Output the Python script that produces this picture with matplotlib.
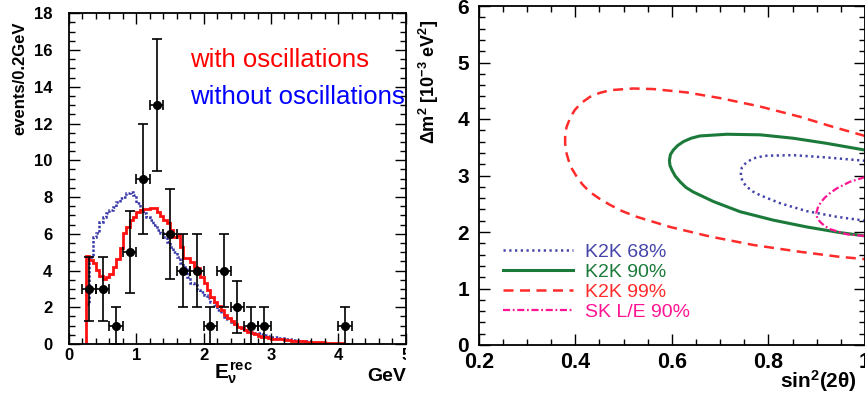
"""K2K energy spectrum and oscillation allowed regions (two panels)."""

import matplotlib
matplotlib.use("Agg")
import matplotlib.pyplot as plt
import numpy as np
from matplotlib.ticker import MultipleLocator
from matplotlib.transforms import Bbox, TransformedBbox

plt.rcParams["font.family"] = ["Liberation Sans", "DejaVu Sans"]
plt.rcParams["mathtext.fontset"] = "custom"
plt.rcParams["mathtext.rm"] = "Liberation Sans:bold"
plt.rcParams["mathtext.it"] = "Liberation Sans:bold"
plt.rcParams["mathtext.bf"] = "Liberation Sans:bold"

# ---- left panel: reconstructed neutrino energy ----
# fine bins (0.05 GeV) up to 3 GeV, then 0.1 GeV in the tail
FINE_EDGES = np.round(np.arange(0.25, 3.0001, 0.05), 3)
RED_TAIL_EDGES = [3.1, 3.2, 3.3, 3.4, 3.5, 3.6, 3.7, 3.8, 3.9, 4.0, 4.08]
BLUE_TAIL_EDGES = [3.1, 3.2, 3.3, 3.4, 3.5, 3.6]

with_osc = [
    4.79, 4.57, 4.39, 4.03, 3.70, 3.52, 3.63, 3.81, 4.21, 4.61,
    5.21, 6.03, 6.39, 6.75, 6.93, 7.20, 7.30, 7.33, 7.35, 7.39,
    7.39, 7.20, 6.97, 6.75, 6.57, 6.21, 5.84, 5.93, 5.30, 4.66,
    4.66, 4.48, 4.21, 4.12, 3.67, 3.30, 2.94, 2.58, 2.30, 2.07,
    1.85, 1.58, 1.40, 1.27, 1.09, 0.94, 0.85, 0.76, 0.67, 0.58,
    0.55, 0.44, 0.40, 0.36, 0.32,
    0.29, 0.25, 0.22, 0.18, 0.15, 0.13, 0.11, 0.09, 0.07, 0.06, 0.05,
]
without_osc = [
    2.20, 4.75, 5.84, 6.03, 6.66, 6.93, 7.11, 7.30, 7.48, 7.75,
    7.93, 8.02, 8.20, 8.29, 8.11, 7.66, 7.30, 7.11, 6.93, 6.75,
    6.48, 6.21, 6.03, 5.84, 5.57, 5.30, 5.03, 4.75, 4.39, 4.21,
    3.67, 3.30, 3.21, 2.94, 2.85, 2.67, 2.49, 2.30, 2.12, 1.85,
    1.67, 1.49, 1.34, 1.22, 1.09, 0.94, 0.85, 0.76, 0.70, 0.67,
    0.62, 0.58, 0.53, 0.49, 0.44,
    0.40, 0.33, 0.28, 0.22, 0.18, 0.15,
]

data_e = [0.3, 0.5, 0.7, 0.9, 1.1, 1.3, 1.5, 1.7, 1.9, 2.1, 2.3, 2.5, 2.7, 2.9, 4.1]
data_n = [3, 3, 1, 5, 9, 13, 6, 4, 4, 1, 4, 2, 1, 1, 1]
data_err = [1.73, 1.73, 1.0, 2.24, 3.0, 3.61, 2.45, 2.0, 2.0, 1.0, 2.0, 1.41, 1.0, 1.0, 1.0]
data_xerr = 0.1

# ---- right panel: allowed regions in (sin^2 2theta, dm^2) ----
k2k99_x = [1.0, 0.934, 0.865, 0.783, 0.700, 0.631, 0.562, 0.520, 0.472, 0.450,
           0.430, 0.412, 0.399, 0.390, 0.382, 0.379, 0.379, 0.381, 0.386, 0.393,
           0.403, 0.415, 0.430, 0.450, 0.472, 0.497, 0.527, 0.596, 0.679, 0.769,
           0.865, 0.948, 1.0]
k2k99_y = [3.70, 3.86, 4.04, 4.22, 4.37, 4.47, 4.53, 4.54, 4.51, 4.46,
           4.39, 4.28, 4.16, 4.03, 3.86, 3.72, 3.57, 3.42, 3.27, 3.12,
           2.98, 2.84, 2.71, 2.59, 2.48, 2.37, 2.27, 2.09, 1.92, 1.77,
           1.65, 1.56, 1.52]
k2k90_x = [1.0, 0.920, 0.851, 0.783, 0.714, 0.658, 0.640, 0.624, 0.612, 0.603,
           0.597, 0.595, 0.596, 0.600, 0.607, 0.617, 0.629, 0.644, 0.686, 0.741,
           0.810, 0.879, 0.948, 1.0]
k2k90_y = [3.45, 3.57, 3.66, 3.72, 3.73, 3.70, 3.66, 3.60, 3.53, 3.45,
           3.37, 3.27, 3.18, 3.10, 2.99, 2.89, 2.79, 2.71, 2.54, 2.36,
           2.21, 2.09, 1.99, 1.93]
k2k68_x = [1.0, 0.920, 0.851, 0.796, 0.775, 0.762, 0.752, 0.745, 0.743, 0.743,
           0.747, 0.754, 0.767, 0.783, 0.824, 0.879, 0.941, 1.0]
k2k68_y = [3.26, 3.32, 3.36, 3.35, 3.32, 3.27, 3.21, 3.14, 3.06, 2.98,
           2.89, 2.81, 2.72, 2.65, 2.51, 2.37, 2.27, 2.20]
sk90_x = [1.0, 0.969, 0.941, 0.928, 0.917, 0.909, 0.903, 0.899, 0.901, 0.907,
          0.916, 0.928, 0.962, 1.0]
sk90_y = [2.97, 2.89, 2.77, 2.69, 2.61, 2.53, 2.45, 2.33, 2.25, 2.18,
          2.11, 2.05, 1.96, 1.93]

W, H = 865, 393
fig = plt.figure(figsize=(W / 100, H / 100), dpi=100)


def px_rect(x0, y0, x1, y1):
    """Axes rectangle from pixel corners (top-left origin)."""
    return [x0 / W, (H - y1) / H, (x1 - x0) / W, (y1 - y0) / H]


def root_ticks(ax, size):
    ax.tick_params(which="both", direction="in", top=True, right=True,
                   labelsize=size, width=1.0)
    ax.tick_params(which="major", length=8)
    ax.tick_params(which="minor", length=4)
    for lbl in ax.get_xticklabels() + ax.get_yticklabels():
        lbl.set_fontweight("bold")
    for sp in ax.spines.values():
        sp.set_linewidth(1.3)


# left panel
ax1 = fig.add_axes(px_rect(69, 13.3, 405.7, 344))
edges_red = np.concatenate([FINE_EDGES, RED_TAIL_EDGES])
edges_blue = np.concatenate([FINE_EDGES, BLUE_TAIL_EDGES])
ax1.stairs(without_osc, edges_blue, color="#3838a8", lw=1.8,
           linestyle=(0, (1, 0.7)), baseline=None)
ax1.stairs(with_osc, edges_red, color="#ff1010", lw=2.0, baseline=0)
ax1.errorbar(data_e, data_n, yerr=data_err, xerr=data_xerr, fmt="o",
             color="black", ms=5.5, elinewidth=1.2, capsize=3.5, capthick=1.2)
ax1.set_xlim(0, 5)
ax1.set_ylim(0, 18)
ax1.set_xticks([0, 1, 2, 3, 4, 5])
ax1.xaxis.set_minor_locator(MultipleLocator(0.2))
ax1.yaxis.set_major_locator(MultipleLocator(2))
ax1.yaxis.set_minor_locator(MultipleLocator(0.5))
root_ticks(ax1, 12)
ax1.tick_params(axis="y", pad=12)
ax1.tick_params(axis="x", pad=3)
ax1.set_ylabel("events/0.2GeV", fontsize=12, fontweight="bold", loc="top")
ax1.yaxis.set_label_coords(-0.125, 0.975)
ax1.text(0.487, -0.105, r"$E_{\nu}^{rec}$", transform=ax1.transAxes,
         ha="center", va="baseline", fontsize=15)
ax1.text(1.0, -0.112, "GeV", transform=ax1.transAxes, ha="right",
         va="baseline", fontsize=14, fontweight="bold")
ax1.text(1.8, 15.1, "with oscillations", color="#ff0000", fontsize=18.5,
         clip_on=False)
ax1.text(1.8, 13.07, "without oscillations", color="#0000ff", fontsize=18.5,
         clip_on=False)
# the "5" label is cut at the frame edge in the original
clip = TransformedBbox(Bbox([[0, 0], [405.7 / W, 1]]), fig.transFigure)
for tick in ax1.xaxis.get_major_ticks():
    tick.label1.set_clip_box(clip)
    tick.label1.set_clip_on(True)

# right panel
ax2 = fig.add_axes(px_rect(478.7, 6, 865, 345))
ax2.plot(k2k68_x, k2k68_y, color="#4444aa", lw=1.8, linestyle=(0, (0.9, 1.4)),
         label="K2K 68%")
ax2.plot(k2k90_x, k2k90_y, color="#1b7a3a", lw=2.2, label="K2K 90%")
ax2.plot(k2k99_x, k2k99_y, color="#ff2a2a", lw=1.8, linestyle=(0, (4, 2.6)),
         label="K2K 99%")
ax2.plot(sk90_x, sk90_y, color="#ff1493", lw=1.6,
         linestyle=(0, (3.2, 1.2, 0.8, 1.2)), label="SK L/E 90%")
ax2.set_xlim(0.2, 1.0)
ax2.set_ylim(0, 6)
ax2.set_xticks([0.2, 0.4, 0.6, 0.8, 1.0], ["0.2", "0.4", "0.6", "0.8", "1"])
ax2.xaxis.set_minor_locator(MultipleLocator(0.05))
ax2.yaxis.set_major_locator(MultipleLocator(1))
ax2.yaxis.set_minor_locator(MultipleLocator(0.2))
root_ticks(ax2, 15.5)
ax2.tick_params(axis="y", labelsize=15, pad=7)
ax2.tick_params(axis="x", pad=5)
ax2.set_ylabel(r"$\Delta$m$^2$ [10$^{-3}$ eV$^2$]", fontsize=13,
               fontweight="bold", loc="top")
ax2.yaxis.set_label_coords(-0.098, 0.96)
ax2.text(0.979, -0.127, r"sin$^2$(2$\theta$)", transform=ax2.transAxes,
         ha="right", va="baseline", fontsize=15, fontweight="bold")
ax2.legend(loc="center left", bbox_to_anchor=(0.0625, 0.186), frameon=False,
           fontsize=14, handlelength=3.6, handletextpad=0.65,
           labelspacing=0.12, borderpad=0, borderaxespad=0,
           labelcolor="linecolor")

fig.savefig("out.png", dpi=100)
